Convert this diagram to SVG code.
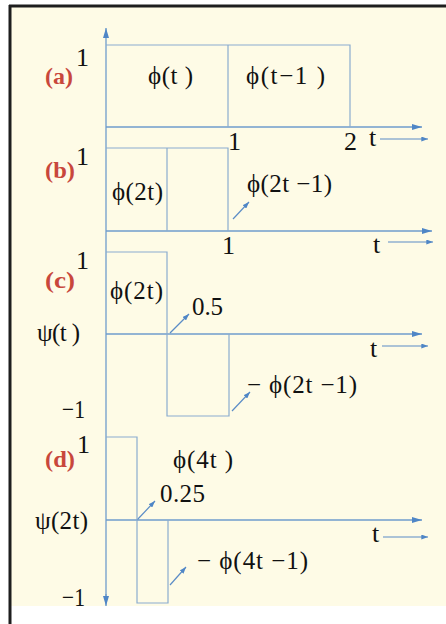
<svg xmlns="http://www.w3.org/2000/svg" width="446" height="624" viewBox="0 0 446 624">
<defs>
<marker id="ah" viewBox="0 0 10 6" refX="10" refY="3" markerWidth="10" markerHeight="6" markerUnits="userSpaceOnUse" orient="auto">
<path d="M0,0 L10,3 L0,6 z" fill="#4f86c6"/>
</marker>
<marker id="ahs" viewBox="0 0 8 6" refX="8" refY="3" markerWidth="7" markerHeight="5" markerUnits="userSpaceOnUse" orient="auto">
<path d="M0,0 L8,3 L0,6 z" fill="#4f86c6"/>
</marker>
<style>
.ax{stroke:#6f9ccc;stroke-width:1.3;fill:none}
.sig{stroke:#8aaccf;stroke-width:1.2;fill:none}
.ptr{stroke:#5b8cc6;stroke-width:1.2;fill:none}
</style>
</defs>
<rect x="0" y="0" width="446" height="624" fill="#ffffff"/>
<rect x="11" y="7" width="435" height="599" fill="#fefbe6"/>
<line x1="9" y1="6" x2="446" y2="6" stroke="#1e1e1e" stroke-width="3"/>
<line x1="10" y1="5" x2="10" y2="624" stroke="#1e1e1e" stroke-width="3"/>

<g id="connectors">
<line class="ax" x1="106" y1="600" x2="106" y2="28" marker-end="url(#ah)"/>
<line class="ax" x1="106" y1="594" x2="106" y2="606" marker-end="url(#ah)"/>
<line class="ax" x1="106" y1="127" x2="422" y2="127" marker-end="url(#ah)"/>
<line class="ax" x1="106" y1="231" x2="432" y2="231" marker-end="url(#ah)"/>
<line class="ax" x1="106" y1="334" x2="422" y2="334" marker-end="url(#ah)"/>
<line class="ax" x1="106" y1="520" x2="422" y2="520" marker-end="url(#ah)"/>
<line class="ptr" x1="380" y1="139" x2="428" y2="139" marker-end="url(#ahs)"/>
<line class="ptr" x1="388" y1="242" x2="433" y2="242" marker-end="url(#ahs)"/>
<line class="ptr" x1="382" y1="346" x2="428" y2="346" marker-end="url(#ahs)"/>
<line class="ptr" x1="383" y1="537" x2="428" y2="537" marker-end="url(#ahs)"/>
<line class="ptr" x1="233" y1="219" x2="249" y2="202" marker-end="url(#ahs)"/>
<line class="ptr" x1="170" y1="333" x2="189" y2="314" marker-end="url(#ahs)"/>
<line class="ptr" x1="232" y1="411" x2="250" y2="392" marker-end="url(#ahs)"/>
<line class="ptr" x1="137" y1="520" x2="155" y2="501" marker-end="url(#ahs)"/>
<line class="ptr" x1="170" y1="585" x2="186" y2="567" marker-end="url(#ahs)"/>
</g>

<g font-family="'Liberation Serif', 'Times New Roman', serif" font-size="25" fill="#111111">
<g id="panel-a">
<path class="sig" d="M106,45 H350 V127 M228,45 V127"/>
<text x="76" y="66" font-size="26">1</text>
<text x="45" y="84" font-weight="bold" fill="#c8473c" font-size="24" textLength="28" lengthAdjust="spacingAndGlyphs">(a)</text>
<text x="148" y="84" textLength="45">ϕ(t )</text>
<text x="246" y="84" textLength="79">ϕ(t−1 )</text>
<text x="228" y="150" font-size="26">1</text>
<text x="344" y="150" font-size="26">2</text>
<text x="369" y="146" font-size="26">t</text>
</g>

<g id="panel-b">
<path class="sig" d="M106,148 H228 V231 M167,148 V231"/>
<text x="76" y="165" font-size="26">1</text>
<text x="45" y="178" font-weight="bold" fill="#c8473c" font-size="24" textLength="30" lengthAdjust="spacingAndGlyphs">(b)</text>
<text x="112" y="200" textLength="51">ϕ(2t)</text>
<text x="247" y="192" textLength="85">ϕ(2t −1)</text>
<text x="222" y="254" font-size="26">1</text>
<text x="373" y="253" font-size="26">t</text>
</g>

<g id="panel-c">
<path class="sig" d="M106,252 H167 V416 H229 V334"/>
<text x="76" y="269" font-size="26">1</text>
<text x="45" y="288" font-weight="bold" fill="#c8473c" font-size="24" textLength="30" lengthAdjust="spacingAndGlyphs">(c)</text>
<text x="110" y="299" textLength="53">ϕ(2t)</text>
<text x="192" y="315" textLength="31">0.5</text>
<text x="37" y="341" textLength="43">ψ(t )</text>
<text x="370" y="357" font-size="26">t</text>
<text x="247" y="393" textLength="110">− ϕ(2t −1)</text>
<text x="62" y="418" font-size="26" textLength="23" lengthAdjust="spacingAndGlyphs">−1</text>
</g>

<g id="panel-d">
<path class="sig" d="M106,437 H137 V603 H168 V520"/>
<text x="77" y="453" font-size="26">1</text>
<text x="45" y="467" font-weight="bold" fill="#c8473c" font-size="24" textLength="30" lengthAdjust="spacingAndGlyphs">(d)</text>
<text x="173" y="468" textLength="60">ϕ(4t )</text>
<text x="160" y="502" textLength="45">0.25</text>
<text x="35" y="529" textLength="53">ψ(2t)</text>
<text x="372" y="542" font-size="26">t</text>
<text x="197" y="569" textLength="111">− ϕ(4t −1)</text>
<text x="62" y="606" font-size="26" textLength="23" lengthAdjust="spacingAndGlyphs">−1</text>
</g>
</g>
</svg>
